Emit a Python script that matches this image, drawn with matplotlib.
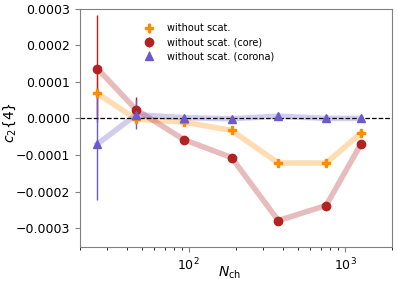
import matplotlib
matplotlib.use('Agg')
import matplotlib.pyplot as plt

# datos
nch = [26, 46, 93, 188, 374, 757, 1265]

c24_sin = [6.8e-5, -0.2e-5, -1.0e-5, -3.3e-5, -12.2e-5, -12.2e-5, -4.0e-5]
err_sin = [6.0e-5, 1.0e-5, 0.5e-5, 0.5e-5, 0.5e-5, 0.5e-5, 0.5e-5]

c24_core = [13.6e-5, 2.4e-5, -5.8e-5, -10.7e-5, -27.9e-5, -23.8e-5, -7.0e-5]
err_core = [14.6e-5, 3.4e-5, 0.5e-5, 0.5e-5, 0.5e-5, 0.5e-5, 0.5e-5]

c24_corona = [-7.0e-5, 1.0e-5, 0.2e-5, -0.1e-5, 0.6e-5, 0.0e-5, 0.0e-5]
err_corona = [15.3e-5, 4.0e-5, 0.4e-5, 0.3e-5, 0.3e-5, 0.3e-5, 0.3e-5]

series = [
    (c24_sin, err_sin, 'darkorange', 'P', 'without scat.'),
    (c24_core, err_core, 'firebrick', 'o', 'without scat. (core)'),
    (c24_corona, err_corona, 'slateblue', '^', 'without scat. (corona)'),
]

fig, ax = plt.subplots(figsize=(3.98, 2.85), dpi=100)

for valores, errores, color, marcador, etiqueta in series:
    ax.plot(nch, valores, '-', color=color, lw=4, alpha=0.3)
    ax.errorbar(nch, valores, yerr=errores, fmt=marcador, color=color,
                ms=6, elinewidth=1, capsize=0, label=etiqueta)

ax.axhline(0, color='black', ls='--', lw=0.9)

ax.set_xscale('log')
ax.set_xlim(20, 2000)
ax.set_ylim(-0.00035, 0.0003)
ax.set_yticks([-0.0003, -0.0002, -0.0001, 0.0, 0.0001, 0.0002, 0.0003])
ax.set_yticklabels(['−0.0003', '−0.0002', '−0.0001', '0.0000', '0.0001', '0.0002', '0.0003'])
ax.tick_params(labelsize=9, color='grey')
for lado in ax.spines.values():
    lado.set_color('grey')

ax.set_xlabel(r'$N_{\rm ch}$', fontsize=10)
ax.set_ylabel(r'$c_2\{4\}$', fontsize=10)
ax.yaxis.set_label_coords(-0.197, 0.52)
ax.xaxis.set_label_coords(0.48, -0.078)
ax.legend(loc='upper left', bbox_to_anchor=(0.164, 0.975), frameon=False,
          fontsize=7, labelspacing=0.4)

plt.subplots_adjust(left=0.2, right=0.985, top=0.97, bottom=0.135)
plt.savefig('out.png', dpi=100)
